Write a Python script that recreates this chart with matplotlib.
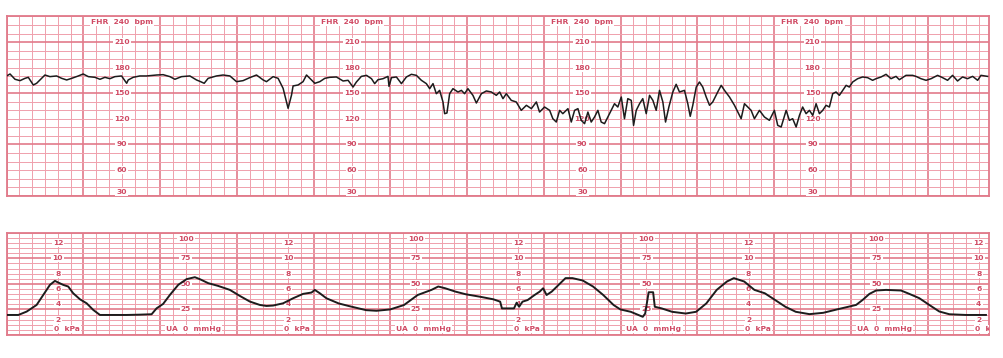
import numpy as np
import matplotlib
matplotlib.use("Agg")
import matplotlib.pyplot as plt

# time in seconds from the left edge of the strip, 1 big square = 60 s
fhr_t = [0, 2.6, 6.5, 10.4, 14.3, 16.9, 20.8, 23.4, 27.3, 29.9, 33.8, 39, 43, 46.9, 50.8, 56, 59.8,
         63.8, 69, 72.9, 76.8, 80.7, 84.6, 89.8, 93.8, 95, 98.9, 104.1, 109.4, 117.2, 122.3, 127.6,
         131.5, 136.7, 143.2, 148.4, 151, 154.4, 157.5, 164, 169.2, 174.5, 179.7, 184.8, 190, 195.3,
         200.5, 203.1, 208.3, 212.2, 216.1, 220, 222.7, 223.9, 227.8, 231.7, 234.4, 238.3, 240.9,
         244.8, 248.7, 252.6,
         257.8, 263, 266.9, 270.8, 273.4, 277.3, 281.3, 285.2, 287.7, 290.3, 294.2, 298.1, 298.9,
         300.8, 304.7, 308.6, 312.5, 316.4, 320.3, 324.2, 328.1, 330.7, 333.3, 335.9, 338.5, 341.1,
         342.4, 344.2, 346.3, 348.9, 352.8, 355.5, 358, 360.6, 364.5, 367.2, 371.1, 375, 378.9,
         382.8, 385.4, 388, 390.6, 394.5, 398.4, 402.3, 406.3, 410.2, 414.1, 416.6, 420.5, 424.5,
         427, 429.7, 432.3, 434.8, 438.8, 441.4, 444, 446.6, 449.2, 451.8, 454.4, 457, 459.6, 462.2,
         464.8, 467.4, 471.3, 475.2, 477.8, 480.5, 483, 485.6, 488.3, 490.1, 492.2, 494.8, 497.3,
         500, 502.6, 505.2, 507.8, 510.4, 513,
         515.1, 517.7, 520.8, 523.4, 526, 529.9, 532.5, 534.4, 536.4, 539.1, 541.6, 544.2, 546.9,
         549.5, 552, 555.9, 558.6, 561.2, 565.1, 569, 574.2, 576.8, 579.4, 582, 584.6, 588.5, 592.4,
         596.3, 600.2, 602.8, 605.5, 609.4, 611.9, 614.5, 617.2, 619.8, 622.3, 625, 627.6, 630.2,
         632.8, 635.4, 638, 640.6, 643.2, 645.8, 648.4, 651, 653.6, 656.3, 658.8, 661.4, 665.3,
         669.2, 673.1, 677, 679.7, 683.6, 687.5, 691.4, 695.3, 697.9, 703.1, 708.3, 710.9, 714.8,
         718.8, 722.7, 727.8, 731.7, 735.6, 739.5, 743.4, 747.3, 751.2, 755.2, 759.1, 761.7, 766.9]
fhr_bpm = [170.3, 172.6, 166.4, 164.8, 167.5, 168.7, 159.7, 161.7, 167.5, 171.4, 169.5, 170.3, 167.5,
           165.6, 167.5, 170.3, 172.6, 169.5, 168.7, 166.4, 168.7, 167.1, 169.5, 170.3, 161.7, 165.6,
           168.7, 170.3, 170.3, 171.4, 171.8, 169.5, 166.4, 169.5, 170.3, 165.6, 164, 161.7, 167.5,
           170.3, 171.4, 170.3, 163.6, 164.8, 168.3, 171.4, 165.6, 163.6, 169.5, 167.5, 155.8, 132.4,
           148, 158.6, 159.7, 163.6, 171.4, 165.6, 161.7, 163.6, 167.5, 168.7,
           169.1, 164.4, 165.2, 157.3, 163.2, 169.8, 171, 167.1, 161.3, 165.9, 167.1, 169.8, 158.1,
           168.3, 169.1, 161.3, 169.1, 172.2, 171, 165.2, 161.3, 155.4, 161.3, 149.5, 153.4, 139.8,
           126.1, 126.9, 149.5, 155.4, 151.5, 153.4, 149.5, 155.4, 147.6, 138.6, 149.5, 152.7, 151.5,
           147.6, 151.5, 143.7, 149.5, 141.7, 139.8, 130, 135.9, 132, 139.8, 128, 133.9, 130,
           120.2, 116.3, 130, 126.1, 132, 116.3, 130, 132, 118.3, 114.4, 128, 116.3, 122.2, 130,
           116.3, 114.4, 126.1, 137.8, 133.9, 145.6, 120.2, 143.7, 141.7, 112.4, 130, 137.8, 143.7,
           126.1, 147.6, 141.7, 130, 153.4, 139.8,
           116.3, 133.9, 151.5, 160.5, 151.5, 153.4, 137.8, 123, 135.9, 157.3, 163.2, 157.3, 145.6,
           135.9, 139.8, 151.5, 159.3, 153.4, 145.6, 135.9, 120.2, 137.8, 133.9, 130, 120.2, 130, 122.2,
           118.3, 130, 112.4, 110.5, 130, 118.3, 120.2, 110.5, 124.1, 133.9, 126.1, 130, 124.1,
           137.8, 126.1, 130, 135.9, 133.9, 149.5, 151.5, 147.6, 153.4, 159.3, 157.3, 163.2, 167.1,
           169.1, 168.3, 165.2, 167.1, 169.1, 172.2, 167.1, 169.8, 165.9, 171, 171, 169.8, 167.1,
           165.2, 167.1, 171, 168.3, 165.2, 171, 164.4, 169.1, 167.1, 169.8, 165.2, 171, 169.8]

ua_t = [0, 9.1, 15.6, 23.4, 28.6, 33.8, 37.7, 40.3, 44.2, 48.1, 52, 57.3, 62.5, 67.7, 72.9, 80.7,
        93.8, 104.1, 113.3, 117.2, 122.3, 127.6, 134.1, 140.6, 147.1, 151, 157.5, 165.3, 174.5,
        182.3, 190.1, 197.9, 203.1, 208.3, 216.1, 223.9, 231.7, 238.3, 240.9, 244.8, 250,
        259.5, 267.6, 281, 289.1, 299.8, 310.6, 321.3, 332.1, 337.4, 342.8, 350.9, 359, 369.7,
        380.5, 385.8, 387.2, 396.6, 398.7, 400.6, 403.3, 407.3, 412.7, 416.7, 419.4, 422.1, 426.1,
        430.2, 436.9, 442.3, 450.3, 458.4, 466.4, 474.5, 479.8, 487.9, 497.3, 499.2, 501.9, 505.4,
        506.7, 512.1, 520.2, 530.9, 539, 547, 555.1, 563.1, 568.5, 576.6, 584.6, 592.7, 600.8,
        608.8, 616.9, 627.6, 638.4, 649.1, 664.1, 669.2, 674.5, 679.7, 687.5, 699.2, 705.7, 713.5,
        721.3, 729.1, 737, 750, 765.6]
ua_mmhg = [19.6, 19.6, 22.9, 29.4, 39.2, 49, 52.9, 51.3, 49, 47.4, 40.8, 34.9, 31, 24.5, 19.6, 19.6,
           19.6, 19.9, 20.3, 26.1, 30.4, 39.2, 49, 54.6, 56.5, 54.6, 50.7, 48, 44.1, 38.2, 32.7,
           29.4, 28.4, 28.8, 31, 35.9, 40.2, 41.5, 44.1, 40.8, 35.9,
           30.9, 28.3, 24.3, 23.7, 25, 29.3, 39.1, 44.1, 47.4, 45.7, 42.4, 39.8, 37.5, 34.9, 32.6,
           26, 26, 31.6, 27.6, 32.6, 34.2, 39.1, 42.4, 45.7, 39.1, 42.4, 47.4, 55.6, 55.6, 53.3,
           47.4, 39.1, 29.3, 25, 22.7, 17.8, 21, 41.8, 41.8, 27.6, 26, 22.7, 21, 22.7, 30.9, 44.1,
           52.3, 55.6, 52.3, 44.1, 40.8, 34.2, 27.6, 22.7, 20.4, 21.7, 25, 29.4, 34.3, 40.2, 43.5,
           44.1, 43.5, 40.2, 36, 29.4, 23, 20.3, 19.6, 19.6]

fhr_labels = [210, 180, 150, 120, 90, 60]
fhr_label_t = [90, 270, 450, 630]
kpa_labels = [12, 10, 8, 6, 4, 2]
kpa_label_t = [40, 220, 400, 580, 760]
mmhg_labels = [100, 75, 50, 25]
mmhg_label_t = [140, 320, 500, 680]

t_end = 768
minor_c = "#efa0ac"
major_c = "#e17a8a"
text_c = "#d04a64"
box = dict(facecolor="white", edgecolor="none", pad=0.8)

fig = plt.figure(figsize=(10.04, 3.58), dpi=100)
ax1 = fig.add_axes([0.00667, 0.4534, 0.9784, 0.5006])
ax2 = fig.add_axes([0.00667, 0.0642, 0.9784, 0.2858])


def paper(ax, ymin, ymax, ymajor, yminor):
    ax.set_xlim(0, t_end)
    ax.set_ylim(ymin, ymax)
    ax.set_xticks(np.arange(0, t_end + 1, 60))
    ax.set_xticks(np.arange(0, t_end + 1, 10), minor=True)
    ax.set_yticks(np.arange(ymin, ymax + 1, ymajor))
    ax.set_yticks(np.arange(ymin, ymax + 1, yminor), minor=True)
    ax.grid(which="minor", color=minor_c, lw=0.7)
    ax.grid(which="major", color=major_c, lw=1.2)
    ax.tick_params(which="both", length=0, labelbottom=False, labelleft=False)
    for s in ax.spines.values():
        s.set_color(major_c)
        s.set_linewidth(1.3)
    ax.set_axisbelow(True)


paper(ax1, 30, 240, 60, 10)
paper(ax2, 0, 100, 25, 5)

fs = 5.4
for t in fhr_label_t:
    ax1.text(t, 234, "FHR  240  bpm", ha="center", va="center", fontsize=fs, color=text_c,
             fontweight="bold", bbox=box)
    for v in fhr_labels:
        ax1.text(t, v, str(v), ha="center", va="center", fontsize=fs, color=text_c,
                 fontweight="bold", bbox=box)
    ax1.text(t, 34.5, "30", ha="center", va="center", fontsize=fs, color=text_c,
             fontweight="bold", bbox=box)

for t in kpa_label_t:
    for v in kpa_labels:
        ax2.text(t, v * 7.5, str(v), ha="center", va="center", fontsize=fs, color=text_c,
                 fontweight="bold", bbox=box, clip_on=True)
    ax2.text(t - 3, 5.8, "0  kPa", ha="left", va="center", fontsize=fs, color=text_c,
             fontweight="bold", bbox=box, clip_on=True)

for t in mmhg_label_t:
    ax2.text(t, 94, "100", ha="center", va="center", fontsize=fs, color=text_c,
             fontweight="bold", bbox=box)
    for v in mmhg_labels[1:]:
        ax2.text(t, v, str(v), ha="center", va="center", fontsize=fs, color=text_c,
                 fontweight="bold", bbox=box)
    ax2.text(t + 6, 5.8, "UA  0  mmHg", ha="center", va="center", fontsize=fs, color=text_c,
             fontweight="bold", bbox=box)

ax1.plot(fhr_t, fhr_bpm, color="#1c1c1c", lw=1.1, zorder=5)
ax2.plot(ua_t, ua_mmhg, color="#1c1c1c", lw=1.4, zorder=5)

fig.savefig("out.png", dpi=100)
